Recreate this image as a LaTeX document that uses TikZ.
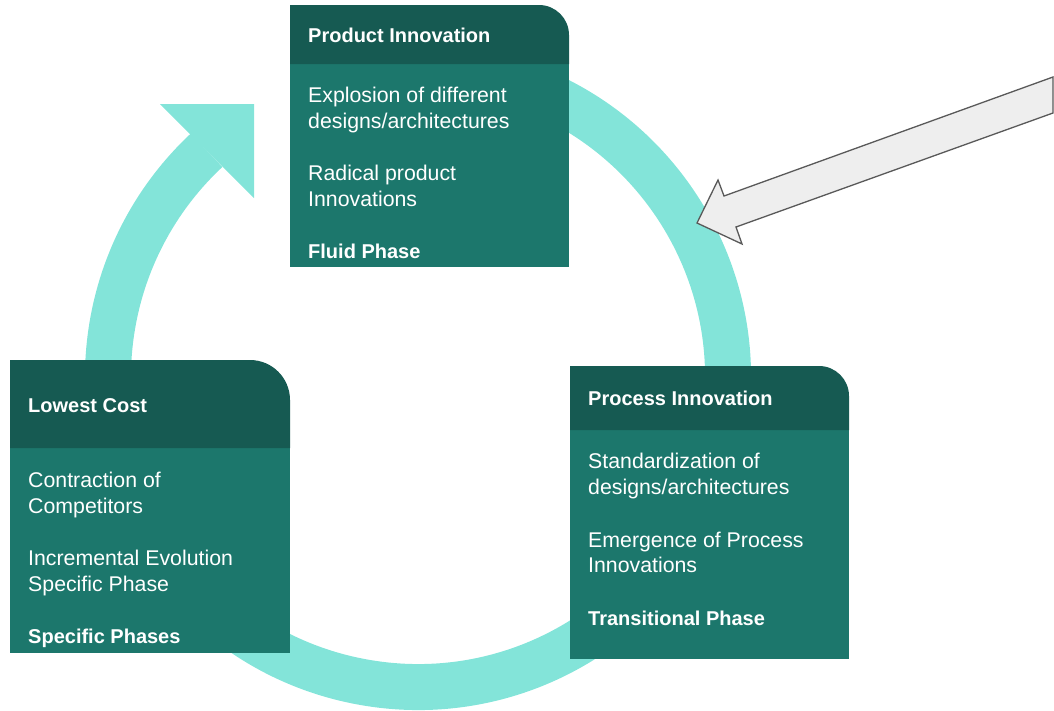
\documentclass[tikz,border=0pt]{standalone}
\usepackage{fontspec}
\setmainfont{Liberation Sans}
\definecolor{hdr}{HTML}{165A52}
\definecolor{bodyc}{HTML}{1C776C}
\definecolor{ringc}{HTML}{83E4D9}
\definecolor{arrfill}{HTML}{EEEEEE}
\definecolor{arrline}{HTML}{595959}
\tikzset{
  hdrfill/.style={fill=hdr},
  bodyfill/.style={fill=bodyc},
  txt/.style={anchor=base west, inner sep=0pt, text=white, font=\fontsize{21.3}{25}\selectfont},
  btxt/.style={anchor=base west, inner sep=0pt, text=white, font=\fontsize{20}{24}\selectfont\bfseries},
  ringline/.style={draw=ringc, line width=46pt},
  grayarrow/.style={fill=arrfill, draw=arrline, line width=1.3pt, line join=miter},
}
\begin{document}
\begin{tikzpicture}[x=1pt, y=-1pt]
\useasboundingbox (0,0) rectangle (1054,710);
\clip (0,0) rectangle (1054,710);
% cycle ring
\coordinate (c) at (418,377);
\draw[ringline] (c) ++(-80:310) arc[start angle=-80, end angle=227, radius=310];
\coordinate (h1) at (160,104);
\coordinate (ht) at (254,104);
\coordinate (h2) at (254,198);
\fill[ringc] (h1) -- (ht) -- (h2) -- cycle;
% Product box
\fill[bodyfill] (290,63) rectangle (569,267);
\fill[hdrfill] (290,64) -- (290,5) [rounded corners=30pt] -- (569,5) [sharp corners] -- (569,64) -- cycle;
\node[btxt] (p0) at (308,42) {Product Innovation};
\node[txt] (p1) at (308,102) {Explosion of different};
\node[txt] (p2) at (308,128) {designs/architectures};
\node[txt] (p3) at (308,180) {Radical product};
\node[txt] (p4) at (308,206) {Innovations};
\node[btxt] (p5) at (308,258) {Fluid Phase};
% Lowest cost box
\fill[bodyfill] (10,447) rectangle (290,653);
\fill[hdrfill] (10,448) -- (10,360) [rounded corners=40pt] -- (290,360) [sharp corners] -- (290,448) -- cycle;
\node[btxt] (l0) at (28,412) {Lowest Cost};
\node[txt] (l1) at (28,487) {Contraction of};
\node[txt] (l2) at (28,513) {Competitors};
\node[txt] (l3) at (28,565) {Incremental Evolution};
\node[txt] (l4) at (28,591) {Specific Phase};
\node[btxt] (l5) at (28,643) {Specific Phases};
% Process box
\fill[bodyfill] (570,429) rectangle (849,659);
\fill[hdrfill] (570,430) -- (570,366) [rounded corners=30pt] -- (849,366) [sharp corners] -- (849,430) -- cycle;
\node[btxt] (r0) at (588,405) {Process Innovation};
\node[txt] (r1) at (588,468) {Standardization of};
\node[txt] (r2) at (588,494) {designs/architectures};
\node[txt] (r3) at (588,547) {Emergence of Process};
\node[txt] (r4) at (588,572) {Innovations};
\node[btxt] (r5) at (588,625) {Transitional Phase};
% gray arrow
\coordinate (g1) at (1053,77);
\coordinate (g2) at (724,196);
\coordinate (g3) at (718,180);
\coordinate (gt) at (697,223);
\coordinate (g4) at (742,244);
\coordinate (g5) at (736,227);
\coordinate (g6) at (1053,113);
\draw[grayarrow] (g1) -- (g2) -- (g3) -- (gt) -- (g4) -- (g5) -- (g6) -- cycle;
\end{tikzpicture}
\end{document}
